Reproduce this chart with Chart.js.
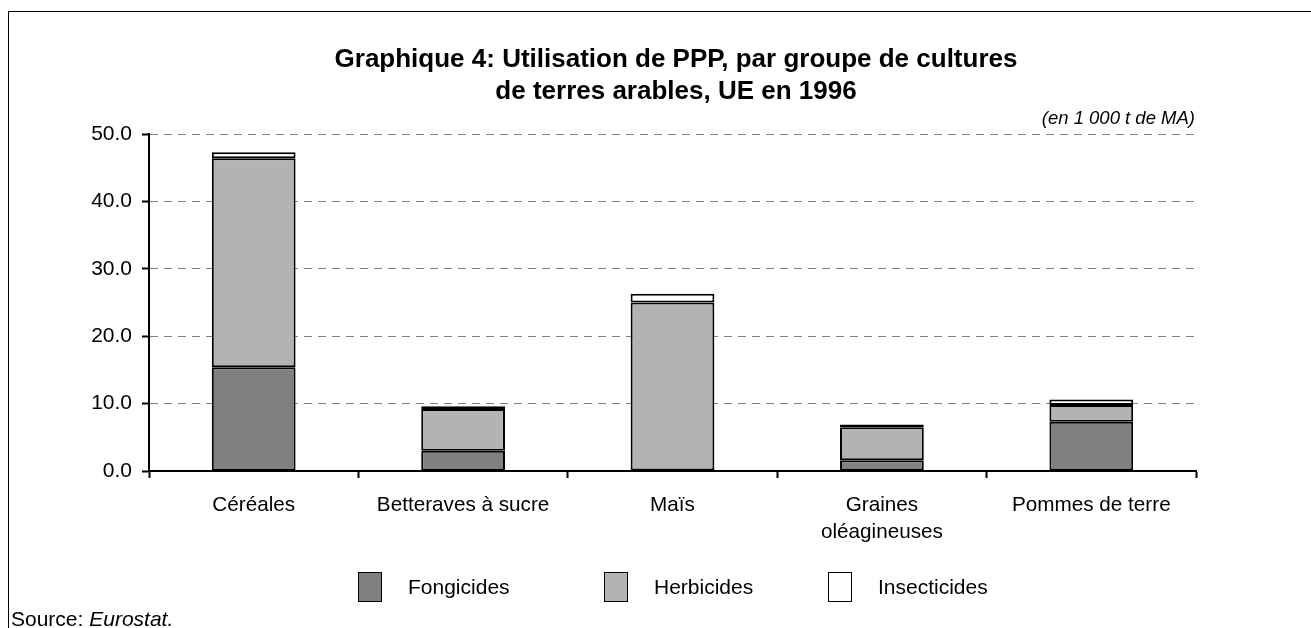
<!DOCTYPE html>
<html>
<head>
<meta charset="utf-8">
<script src="https://cdn.jsdelivr.net/npm/chart.js@4.4.1/dist/chart.umd.min.js"></script>
<style>
  html, body { margin: 0; padding: 0; background: #fff; }
  body { width: 1311px; height: 628px; position: relative; overflow: hidden; font-family: "Liberation Sans", Arial, sans-serif; }
  #frame { position: absolute; left: 8px; top: 11px; width: 1400px; height: 700px; border: 1px solid #000; box-sizing: border-box; }
  #wrap { position: absolute; left: 0; top: 0; width: 1311px; height: 628px; }
  .title { position: absolute; left: 176px; width: 1000px; text-align: center; font-weight: bold; font-size: 26px; line-height: 32px; color: #000; white-space: nowrap; }
  #unit { position: absolute; right: 116px; top: 107px; font-style: italic; font-size: 18.5px; line-height: 22px; color: #000; }
  #source { position: absolute; left: 11px; top: 607px; font-size: 21px; line-height: 24px; color: #000; white-space: nowrap; }
  .leg { position: absolute; top: 572px; height: 29px; }
  .leg .box { position: absolute; left: 0; top: 0; width: 22px; height: 28px; border: 1px solid #000; }
  .leg .lbl { position: absolute; top: 0; font-size: 21px; line-height: 29px; color: #000; white-space: nowrap; }
</style>
</head>
<body>
<div id="wrap"><canvas id="c" width="1311" height="628"></canvas></div>
<div id="frame"></div>
<div class="title" style="top:42px">Graphique 4: Utilisation de PPP, par groupe de cultures</div>
<div class="title" style="top:74px">de terres arables, UE en 1996</div>
<div id="unit">(en 1 000 t de MA)</div>
<div id="legend"></div>
<div id="source">Source: <i>Eurostat.</i></div>
<script>
const categories = ['Céréales', 'Betteraves à sucre', 'Maïs', ['Graines', 'oléagineuses'], 'Pommes de terre'];
const fongicides = [15.4, 3.0, 0.0, 1.6, 7.3];
const herbicides = [31.0, 6.2, 25.0, 4.9, 2.5];
const insecticides = [0.9, 0.4, 1.3, 0.4, 0.8];
const seriesNames = ['Fongicides', 'Herbicides', 'Insecticides'];
const seriesColors = ['#808080', '#b3b3b3', '#ffffff'];
const yTicks = [0, 10, 20, 30, 40, 50];

const legendX = [358, 604, 828];
const legendEl = document.getElementById('legend');
seriesNames.forEach((n, i) => {
  const d = document.createElement('div');
  d.className = 'leg';
  d.style.left = legendX[i] + 'px';
  d.innerHTML = '<div class="box" style="background:' + seriesColors[i] + '"></div><div class="lbl" style="left:50px">' + n + '</div>';
  legendEl.appendChild(d);
});

const values = [fongicides, herbicides, insecticides];
new Chart(document.getElementById('c'), {
  type: 'bar',
  data: {
    labels: categories,
    datasets: seriesNames.map((n, i) => ({
      label: n,
      data: values[i],
      backgroundColor: seriesColors[i],
      borderColor: '#000',
      borderWidth: (ctx) => (ctx.raw === 0 ? 0 : 2),
      borderSkipped: false,
      categoryPercentage: 1.0,
      barPercentage: 0.4
    }))
  },
  options: {
    responsive: false,
    animation: false,
    layout: { padding: { left: 0, right: 115, top: 134, bottom: 0 } },
    plugins: { legend: { display: false }, title: { display: false }, tooltip: { enabled: false } },
    scales: {
      x: {
        stacked: true,
        offset: true,
        afterFit: (s) => { s.height = 157; },
        grid: { display: true, drawOnChartArea: false, offset: true, tickLength: 7, tickColor: '#000', tickWidth: 2 },
        border: { display: true, color: '#000', width: 2 },
        ticks: { color: '#000', font: { family: 'Liberation Sans', size: 20.7, lineHeight: 1.3 }, padding: 14, maxRotation: 0, autoSkip: false }
      },
      y: {
        stacked: true,
        min: 0,
        max: 50,
        afterFit: (s) => { s.width = 149; },
        afterBuildTicks: (s) => { s.ticks = yTicks.map(v => ({ value: v })); },
        grid: { color: '#808080', lineWidth: 1, tickLength: 7, tickColor: '#000', tickWidth: 2, tickBorderDash: [] },
        border: { display: true, color: '#000', width: 2, dash: [8, 6] },
        ticks: { color: '#000', font: { family: 'Liberation Sans', size: 21 }, padding: 10, callback: (v) => Number(v).toFixed(1) }
      }
    }
  }
});
</script>
</body>
</html>
